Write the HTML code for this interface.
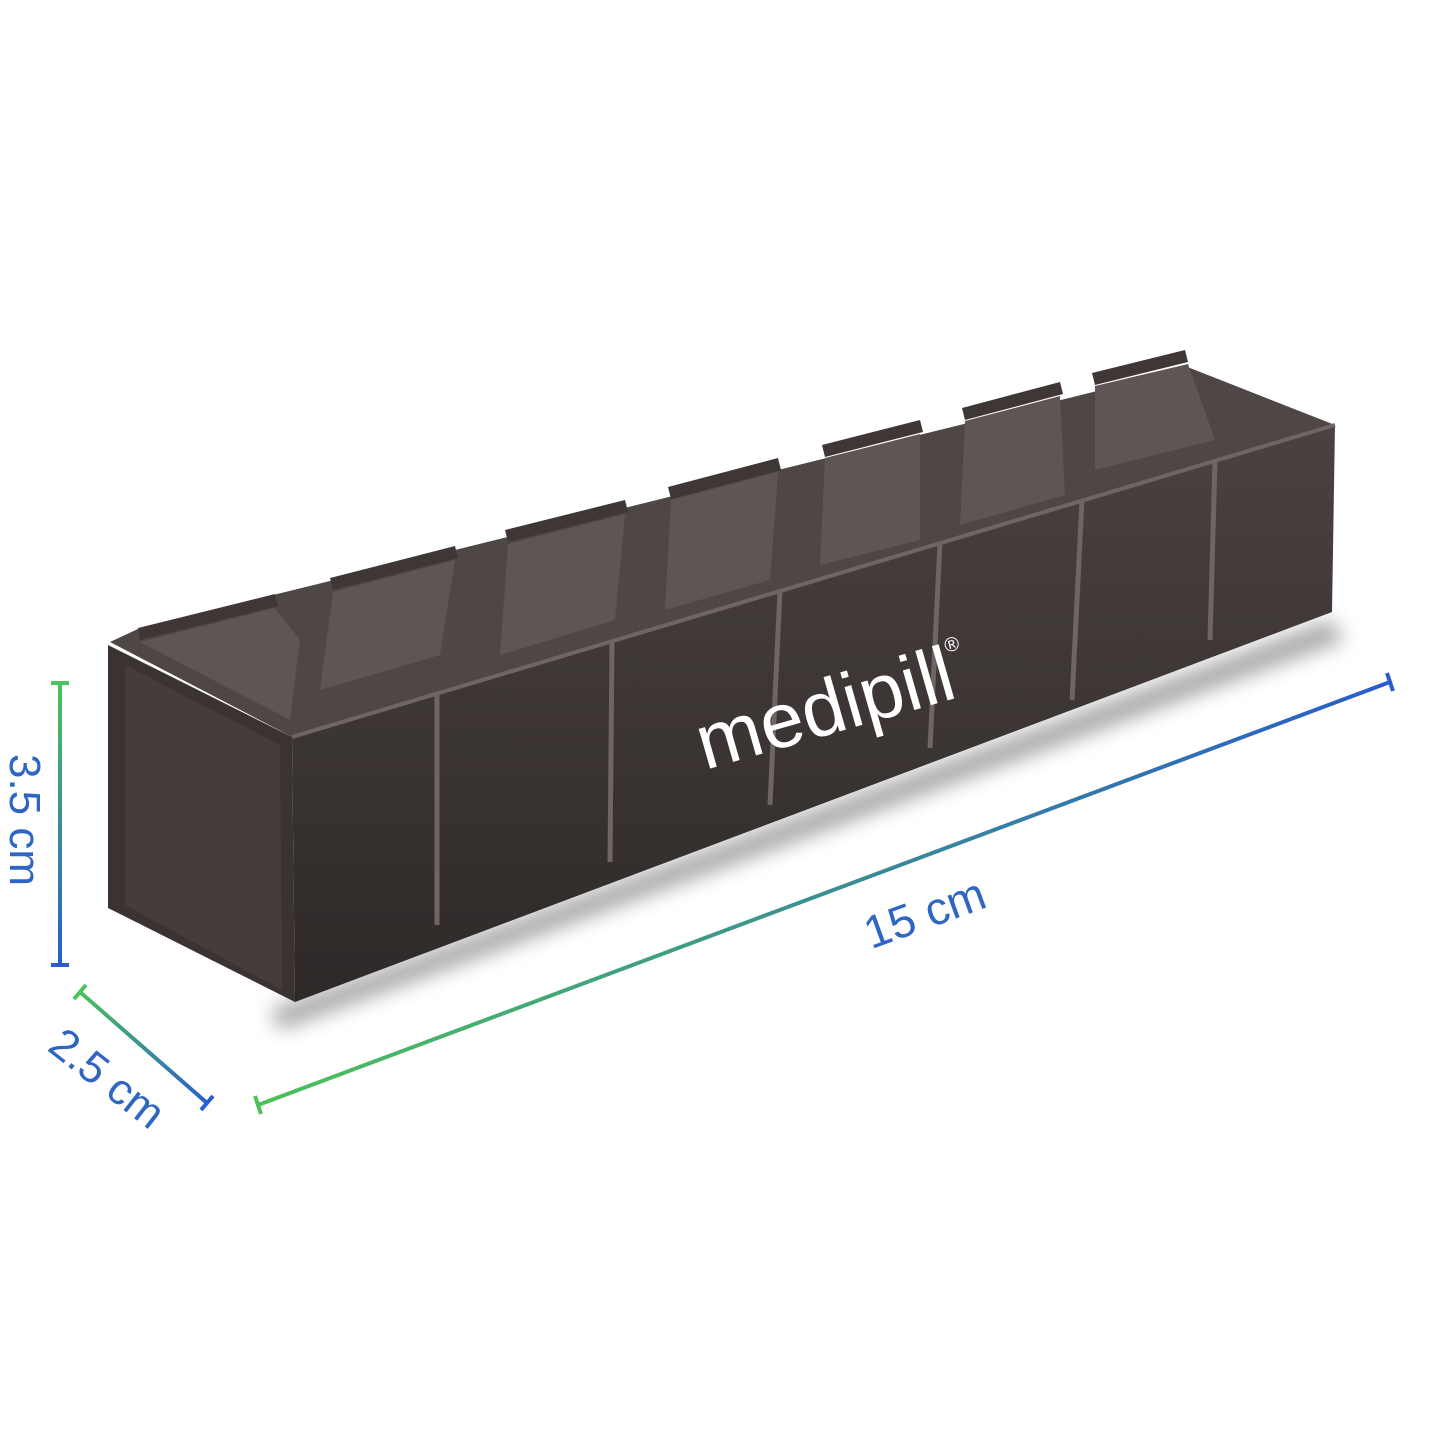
<!DOCTYPE html>
<html><head><meta charset="utf-8"><style>
html,body{margin:0;padding:0;background:#fff;}
svg{display:block}
text{font-family:"Liberation Sans",sans-serif;}
</style></head><body>
<svg width="1445" height="1445" viewBox="0 0 1445 1445" xmlns="http://www.w3.org/2000/svg">
<defs>
<linearGradient id="gv" x1="60" y1="683" x2="60" y2="965" gradientUnits="userSpaceOnUse"><stop offset="0" stop-color="#4cc25a"/><stop offset="1" stop-color="#2a5ccc"/></linearGradient>
<linearGradient id="gd" x1="80" y1="992" x2="207" y2="1103" gradientUnits="userSpaceOnUse"><stop offset="0" stop-color="#4cc25a"/><stop offset="1" stop-color="#2a5ccc"/></linearGradient>
<linearGradient id="gl" x1="258" y1="1105" x2="1390" y2="680" gradientUnits="userSpaceOnUse"><stop offset="0" stop-color="#4cc25a"/><stop offset="1" stop-color="#2a5ccc"/></linearGradient>
<linearGradient id="front" x1="0" y1="0" x2="0" y2="1"><stop offset="0" stop-color="#4a4241"/><stop offset="1" stop-color="#2e2928"/></linearGradient>
<filter id="sh" x="-10%" y="-10%" width="120%" height="140%"><feGaussianBlur stdDeviation="10"/></filter>
</defs>
<polygon points="270,1010 1330,620 1345,640 280,1030" fill="#000" opacity="0.35" filter="url(#sh)"/>
<!-- top face -->
<polygon points="110,642 140,628 1190,368 1335,425 292,737" fill="#4f4746"/>
<!-- lid tabs -->
<g fill="#3e3736">
<polygon points="138,628 275,594 278,606 140,640"/>
<polygon points="330,578 455,546 458,558 333,590"/>
<polygon points="505,530 625,500 628,512 508,542"/>
<polygon points="668,487 778,458 781,470 671,499"/>
<polygon points="822,445 920,420 923,432 825,457"/>
<polygon points="962,408 1060,382 1063,394 965,420"/>
<polygon points="1092,373 1185,350 1188,362 1095,385"/>
</g>
<!-- compartment interiors -->
<g fill="#5e5554">
<polygon points="140,642 275,608 300,640 290,720"/>
<polygon points="333,592 455,560 440,655 320,690"/>
<polygon points="508,544 625,514 615,620 500,655"/>
<polygon points="671,500 778,472 770,580 665,610"/>
<polygon points="825,458 920,434 920,540 820,565"/>
<polygon points="965,421 1060,396 1065,495 960,525"/>
<polygon points="1095,386 1188,364 1215,440 1095,470"/>
</g>
<!-- left end face -->
<polygon points="108,645 292,737 295,1002 108,908" fill="#3a3332"/>
<polygon points="125,665 280,745 282,990 125,905" fill="#453d3c"/>
<!-- front face -->
<polygon points="292,737 1335,425 1332,612 295,1002" fill="url(#front)"/>
<g stroke="#6e6564" stroke-width="5">
<line x1="437" y1="693" x2="437" y2="925"/>
<line x1="612" y1="641" x2="610" y2="862"/>
<line x1="780" y1="590" x2="770" y2="805"/>
<line x1="940" y1="542" x2="930" y2="748"/>
<line x1="1082" y1="500" x2="1072" y2="700"/>
<line x1="1215" y1="461" x2="1210" y2="640"/>
</g>
<line x1="292" y1="737" x2="1335" y2="425" stroke="#6e6564" stroke-width="4"/>
<text x="0" y="0" transform="translate(705,770) rotate(-16)" font-size="78" fill="#fff">medipill<tspan font-size="20" dy="-46">®</tspan></text>
<!-- dimension 3.5 -->
<line x1="60" y1="683" x2="60" y2="965" stroke="url(#gv)" stroke-width="4"/>
<line x1="51" y1="683" x2="69" y2="683" stroke="#4cc25a" stroke-width="4"/>
<line x1="51" y1="965" x2="69" y2="965" stroke="#2a5ccc" stroke-width="4"/>
<text transform="translate(10,820) rotate(90)" font-size="44" fill="#2f66c4" text-anchor="middle">3.5 cm</text>
<!-- dimension 2.5 -->
<line x1="80" y1="992" x2="207" y2="1103" stroke="url(#gd)" stroke-width="4"/>
<line x1="74" y1="999" x2="86" y2="985" stroke="#4cc25a" stroke-width="4"/>
<line x1="201" y1="1110" x2="213" y2="1096" stroke="#2a5ccc" stroke-width="4"/>
<text transform="translate(98,1090) rotate(38)" font-size="44" fill="#2f66c4" text-anchor="middle">2.5 cm</text>
<!-- dimension 15 -->
<line x1="258" y1="1105" x2="1390" y2="682" stroke="url(#gl)" stroke-width="4"/>
<line x1="255" y1="1096" x2="261" y2="1114" stroke="#4cc25a" stroke-width="4"/>
<line x1="1387" y1="673" x2="1393" y2="691" stroke="#2a5ccc" stroke-width="4"/>
<text transform="translate(930,928) rotate(-20)" font-size="46" fill="#2f66c4" text-anchor="middle">15 cm</text>
</svg>
</body></html>
